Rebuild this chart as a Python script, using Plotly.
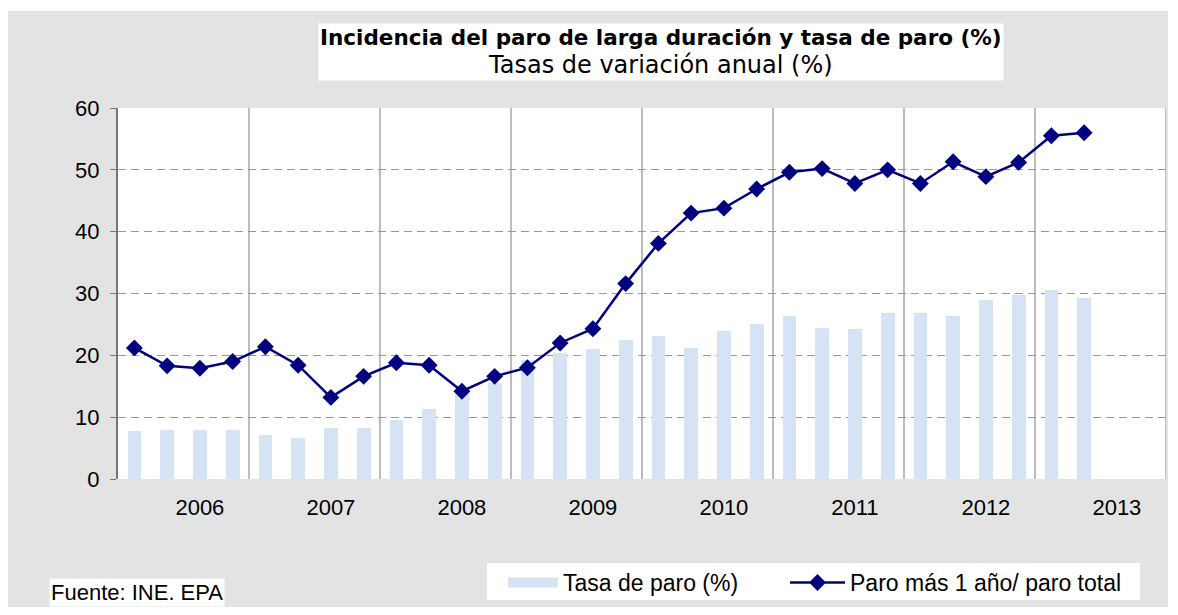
import plotly.graph_objects as go

years = ["2006", "2007", "2008", "2009", "2010", "2011", "2012", "2013"]
quarters = ["2006T1", "2006T2", "2006T3", "2006T4",
            "2007T1", "2007T2", "2007T3", "2007T4",
            "2008T1", "2008T2", "2008T3", "2008T4",
            "2009T1", "2009T2", "2009T3", "2009T4",
            "2010T1", "2010T2", "2010T3", "2010T4",
            "2011T1", "2011T2", "2011T3", "2011T4",
            "2012T1", "2012T2", "2012T3", "2012T4",
            "2013T1", "2013T2"]
tasa_paro = [7.8, 7.9, 7.9, 7.9,
             7.1, 6.6, 8.3, 8.3,
             9.6, 11.3, 14.0, 15.5,
             19.3, 20.3, 21.1, 22.5,
             23.2, 21.2, 24.0, 25.0,
             26.3, 24.5, 24.2, 26.8,
             26.9, 26.3, 28.9, 29.7,
             30.5, 29.2]
paro_larga = [21.2, 18.3, 17.9, 19.0,
              21.4, 18.4, 13.2, 16.6,
              18.8, 18.4, 14.2, 16.6,
              18.0, 22.0, 24.3, 31.6,
              38.1, 43.0, 43.8, 46.9,
              49.6, 50.2, 47.8, 50.0,
              47.8, 51.3, 48.9, 51.2,
              55.5, 56.0]
name_bar = "Tasa de paro (%)"
name_line = "Paro más 1 año/ paro total"

FONT = "Liberation Sans, Arial, sans-serif"
WIDE = "DejaVu Sans, Liberation Sans, sans-serif"
BAR_COLOR = "#D5E3F4"
LINE_COLOR = "#000080"
idx = list(range(len(quarters)))
n_slots = len(years) * 4

W, H = 1160, 599
L, R, T, B = 110, 2, 100, 128
PW, PH = W - L - R, H - T - B


def px(xpix):
    return (xpix - L) / PW


def py(ypix):
    return (T + PH - ypix) / PH


fig = go.Figure()
fig.add_trace(go.Bar(x=idx, y=tasa_paro, name=name_bar, showlegend=False,
                     marker=dict(color=BAR_COLOR, line=dict(width=0)),
                     width=0.42, hovertext=quarters))
fig.add_trace(go.Scatter(x=idx, y=paro_larga, name=name_line, showlegend=False,
                         mode="lines+markers",
                         line=dict(color=LINE_COLOR, width=2.5),
                         marker=dict(symbol="diamond", size=13, color=LINE_COLOR),
                         hovertext=quarters))
# legend entries (one legend box per entry, placed like the original)
fig.add_trace(go.Scatter(x=[None], y=[None], name=name_bar, mode="lines",
                         line=dict(color=BAR_COLOR, width=12), legend="legend"))
fig.add_trace(go.Scatter(x=[None], y=[None], name=name_line, mode="lines+markers",
                         line=dict(color=LINE_COLOR, width=2.5),
                         marker=dict(symbol="diamond", size=13, color=LINE_COLOR),
                         legend="legend2"))

# year separators
for k in range(1, len(years) + 1):
    xv = -0.5 + 4 * k
    fig.add_shape(type="line", x0=xv, x1=xv, y0=0, y1=60, xref="x", yref="y",
                  line=dict(color="#A6A6A6", width=1.5), layer="below")

# thin white strip at top of figure
fig.add_shape(type="rect", xref="paper", yref="paper",
              x0=px(-10), x1=px(W + 10), y0=py(3), y1=py(-5),
              fillcolor="white", line=dict(width=0), layer="below")
# white legend panel
fig.add_shape(type="rect", xref="paper", yref="paper",
              x0=px(479), x1=px(1132), y0=py(592), y1=py(555),
              fillcolor="white", line=dict(width=0), layer="below")

fig.update_layout(
    width=W, height=H,
    margin=dict(l=L, r=R, t=T, b=B, autoexpand=False),
    paper_bgcolor="#E3E3E3", plot_bgcolor="white",
    font=dict(family=FONT, size=22, color="black"),
    showlegend=True,
    bargap=0,
    legend=dict(orientation="h", x=px(555 - 60), y=py(553),
                xanchor="left", yanchor="top", bgcolor="rgba(0,0,0,0)",
                font=dict(size=23, family=FONT), itemwidth=50),
    legend2=dict(orientation="h", x=px(837 - 60), y=py(553),
                 xanchor="left", yanchor="top", bgcolor="rgba(0,0,0,0)",
                 font=dict(size=23, family=FONT), itemwidth=55),
    xaxis=dict(range=[-0.5, n_slots - 0.5], tickmode="array",
               tickvals=[4 * i + 2 for i in range(len(years))], ticktext=years,
               showgrid=False, zeroline=False, showline=False,
               ticks="", ticklabelstandoff=13,
               tickfont=dict(size=22)),
    yaxis=dict(range=[0, 60], dtick=10, showgrid=True, gridcolor="#999999",
               griddash="8px,5px", gridwidth=1, zeroline=False, showline=True,
               linecolor="#777777", linewidth=2, ticks="outside", ticklen=6,
               tickcolor="#777777", ticklabelstandoff=6, tickfont=dict(size=22)),
    annotations=[
        dict(text="<b>Incidencia del paro de larga duración y tasa de paro (%)</b><br>"
                  "<span style='font-size:24px'>Tasas de variación anual (%)</span>",
             x=px(653), y=py(44), xref="paper", yref="paper",
             xanchor="center", yanchor="middle", showarrow=False,
             bgcolor="white", font=dict(size=21.5, family=WIDE), align="center",
             borderpad=1),
        dict(text="Fuente: INE. EPA", x=px(41), y=py(584),
             xref="paper", yref="paper", xanchor="left", yanchor="middle",
             showarrow=False, bgcolor="white", font=dict(size=22, family=FONT),
             borderpad=1),
    ],
)

fig.write_html("out.html")
